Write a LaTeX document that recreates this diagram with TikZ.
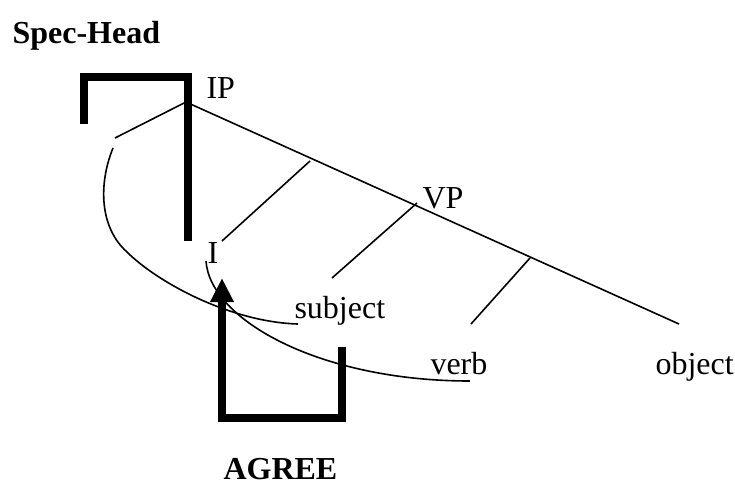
\documentclass[tikz,border=0pt]{standalone}
\usepackage{fontspec}
\setmainfont{Liberation Serif}
\usetikzlibrary{arrows.meta}

\tikzset{
  lbl/.style={anchor=base west, inner sep=0pt, font=\fontsize{12}{14}\selectfont},
  heading/.style={lbl, font=\fontsize{12}{14}\selectfont\bfseries},
  branch/.style={line width=0.6pt},
  bracket/.style={line width=2.8pt, line join=miter}
}

\begin{document}
\begin{tikzpicture}[x=0.375pt, y=-0.375pt]
  \useasboundingbox (0,0) rectangle (735,485);

  % headings
  \node[heading] (spechead) at (12,43) {Spec-Head};
  \node[heading] (agree) at (223,479) {AGREE};

  % tree labels
  \node[lbl] (IP) at (206,98) {IP};
  \node[lbl] (VP) at (422,208) {VP};
  \node[lbl] (I) at (207,263) {I};
  \node[lbl] (subject) at (294,318) {subject};
  \node[lbl] (verb) at (430,374) {verb};
  \node[lbl] (object) at (655,374) {object};

  % branch points and ends
  \coordinate (ip) at (186,102);
  \coordinate (spec) at (115,138);
  \coordinate (rt) at (679,324);
  \coordinate (ibar) at (310,161);
  \coordinate (iend) at (222,241);
  \coordinate (vp) at (417,203);
  \coordinate (subj) at (332,278);
  \coordinate (vbar) at (530,258);
  \coordinate (vend) at (471,324);

  \draw[branch] (spec) -- (ip) -- (rt);
  \draw[branch] (ibar) -- (iend);
  \draw[branch] (vp) -- (subj);
  \draw[branch] (vbar) -- (vend);

  % movement curves
  \coordinate (specgap) at (113,148);
  \coordinate (subjgap) at (298,324);
  \coordinate (igap) at (206,261);
  \coordinate (verbgap) at (470,381);
  \draw[branch] (specgap) .. controls (98,185) and (100,228) .. (127,252)
                .. controls (157,282) and (230,322) .. (subjgap);
  \draw[branch] (igap) .. controls (210,320) and (320,381) .. (verbgap);

  % spec-head bracket
  \coordinate (shL) at (84,124);
  \coordinate (shTL) at (84,77);
  \coordinate (shTR) at (188,77);
  \coordinate (shR) at (188,241);
  \draw[bracket] (shL) -- (shTL) -- (shTR) -- (shR);

  % agreement arrow
  \coordinate (agR) at (342,347);
  \coordinate (agBR) at (342,418);
  \coordinate (agBL) at (222,418);
  \coordinate (agTip) at (222,278);
  \draw[bracket, -{Triangle[length=9pt, width=8.3pt]}]
    (agR) -- (agBR) -- (agBL) -- (agTip);
\end{tikzpicture}
\end{document}
